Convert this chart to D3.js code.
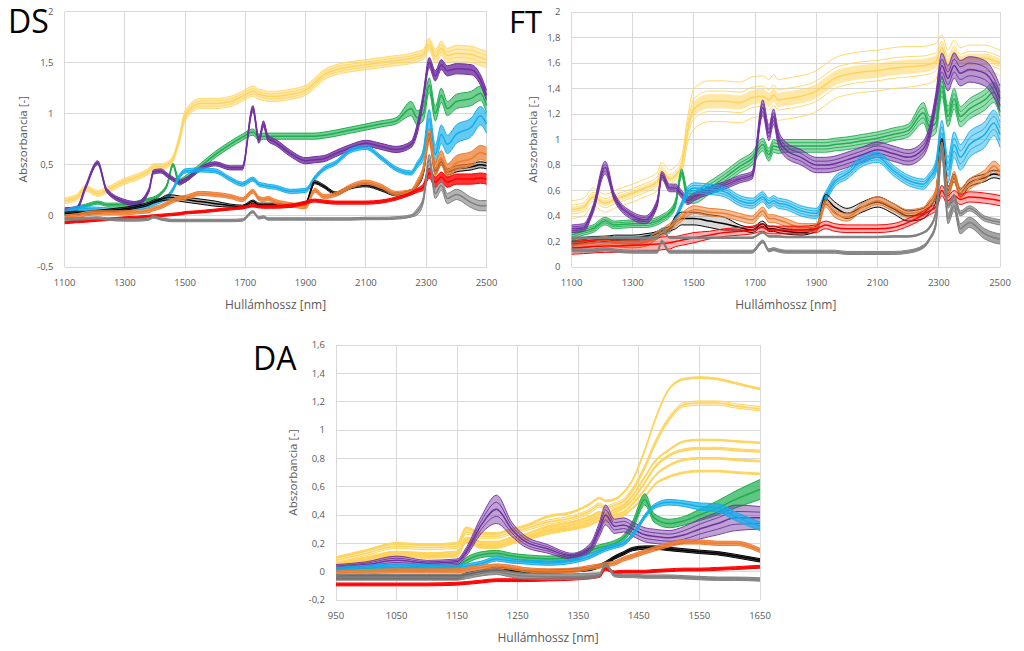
<!DOCTYPE html>
<html><head><meta charset="utf-8">
<script src="https://cdn.jsdelivr.net/npm/d3@7/dist/d3.min.js"></script>
<style>
html,body{margin:0;padding:0;background:#fff;}
svg{display:block;font-family:"Open Sans","Noto Sans",sans-serif;}
</style></head><body>
<svg id="c" width="1024" height="651"></svg>
<script>
// ---------------- DATA ----------------
// shared wavelength grid for DS and FT panels (nm)
const WL = [1100,1140,1170,1210,1240,1300,1340,1380,1395,1420,1440,1460,1480,1500,1550,1600,1650,1690,1725,1745,1760,1775,1800,1850,1900,1930,1960,2000,2050,2100,2150,2200,2250,2270,2290,2310,2330,2350,2370,2400,2450,2480,2500];
const DS_XTICKS = [1100,1300,1500,1700,1900,2100,2300,2500];
const DS_YTICKS = [-0.5,0,0.5,1,1.5,2];
const DS_YLABELS = ["-0,5","0","0,5","1","1,5","2"];
const FT_XTICKS = [1100,1300,1500,1700,1900,2100,2300,2500];
const FT_YTICKS = [0,0.2,0.4,0.6,0.8,1,1.2,1.4,1.6,1.8,2];
const FT_YLABELS = ["0","0,2","0,4","0,6","0,8","1","1,2","1,4","1,6","1,8","2"];
const DA_XTICKS = [950,1050,1150,1250,1350,1450,1550,1650];
const DA_YTICKS = [-0.2,0,0.2,0.4,0.6,0.8,1,1.2,1.4,1.6];
const DA_YLABELS = ["-0,2","0","0,2","0,4","0,6","0,8","1","1,2","1,4","1,6"];

// DS panel: bundle centre values and half-widths
const DS_YELLOW   = [0.15,0.18,0.27,0.22,0.25,0.34,0.38,0.44,0.48,0.48,0.50,0.56,0.74,0.98,1.10,1.10,1.12,1.17,1.22,1.19,1.18,1.17,1.17,1.19,1.23,1.30,1.38,1.43,1.46,1.48,1.50,1.52,1.54,1.56,1.58,1.68,1.56,1.64,1.57,1.59,1.58,1.55,1.53];
const DS_YELLOW_S = [0.03,0.03,0.03,0.03,0.03,0.03,0.03,0.03,0.03,0.03,0.03,0.03,0.04,0.05,0.05,0.05,0.05,0.05,0.05,0.05,0.05,0.05,0.05,0.05,0.05,0.05,0.05,0.05,0.05,0.05,0.05,0.05,0.05,0.05,0.05,0.06,0.07,0.07,0.07,0.08,0.08,0.08,0.08];
const DS_PURPLE   = [0.06,0.07,0.28,0.52,0.25,0.14,0.12,0.25,0.43,0.44,0.40,0.36,0.33,0.35,0.46,0.51,0.47,0.47,1.05,0.74,0.90,0.76,0.72,0.61,0.54,0.55,0.56,0.61,0.67,0.71,0.68,0.65,0.70,0.85,1.15,1.50,1.37,1.48,1.42,1.44,1.43,1.33,1.18];
const DS_PURPLE_S = [0.02,0.02,0.02,0.02,0.02,0.02,0.02,0.02,0.02,0.02,0.02,0.02,0.02,0.02,0.02,0.02,0.02,0.02,0.03,0.03,0.03,0.03,0.03,0.03,0.03,0.03,0.03,0.03,0.03,0.03,0.03,0.03,0.03,0.05,0.05,0.05,0.05,0.05,0.05,0.05,0.05,0.05,0.05];
const DS_GREEN    = [0.03,0.08,0.10,0.13,0.11,0.11,0.13,0.16,0.17,0.22,0.30,0.50,0.33,0.36,0.48,0.60,0.70,0.77,0.82,0.77,0.78,0.78,0.78,0.78,0.78,0.78,0.79,0.81,0.84,0.87,0.90,0.93,1.05,0.96,1.00,1.28,1.00,1.18,1.05,1.12,1.15,1.20,1.08];
const DS_GREEN_S  = [0.015,0.015,0.015,0.015,0.015,0.015,0.015,0.015,0.015,0.015,0.015,0.015,0.03,0.03,0.03,0.03,0.03,0.03,0.03,0.03,0.03,0.03,0.03,0.03,0.03,0.03,0.03,0.03,0.03,0.03,0.03,0.03,0.07,0.07,0.07,0.07,0.07,0.07,0.07,0.07,0.07,0.07,0.07];
const DS_BLUE     = [0.03,0.07,0.07,0.065,0.06,0.06,0.08,0.10,0.12,0.15,0.18,0.26,0.38,0.44,0.45,0.44,0.36,0.31,0.36,0.31,0.30,0.29,0.28,0.24,0.25,0.37,0.46,0.52,0.64,0.67,0.57,0.46,0.42,0.50,0.60,0.95,0.60,0.80,0.70,0.80,0.87,0.98,0.90];
const DS_BLUE_S   = [0.02,0.02,0.02,0.02,0.02,0.02,0.02,0.02,0.02,0.02,0.02,0.02,0.02,0.02,0.02,0.02,0.02,0.02,0.02,0.02,0.02,0.02,0.02,0.02,0.02,0.02,0.02,0.02,0.02,0.02,0.02,0.02,0.02,0.03,0.05,0.09,0.09,0.09,0.09,0.09,0.09,0.09,0.09];
const DS_ORANGE   = [-0.01,0.0,0.02,0.03,0.03,0.03,0.04,0.05,0.07,0.09,0.12,0.15,0.17,0.18,0.22,0.21,0.19,0.16,0.24,0.17,0.16,0.17,0.14,0.11,0.09,0.25,0.19,0.21,0.29,0.33,0.29,0.22,0.24,0.32,0.45,0.78,0.46,0.57,0.44,0.52,0.56,0.62,0.60];
const DS_ORANGE_S = [0.02,0.02,0.02,0.02,0.02,0.02,0.02,0.02,0.02,0.02,0.02,0.02,0.02,0.02,0.02,0.02,0.02,0.02,0.02,0.02,0.02,0.02,0.02,0.02,0.02,0.02,0.02,0.02,0.02,0.02,0.02,0.02,0.02,0.03,0.04,0.07,0.07,0.07,0.07,0.07,0.07,0.07,0.07];
const DS_BLACK    = [0.02,0.03,0.03,0.04,0.05,0.07,0.09,0.12,0.14,0.16,0.18,0.18,0.17,0.16,0.14,0.12,0.10,0.09,0.14,0.11,0.11,0.11,0.11,0.10,0.12,0.33,0.29,0.22,0.28,0.30,0.26,0.21,0.24,0.30,0.42,0.78,0.44,0.53,0.43,0.46,0.48,0.50,0.49];
const DS_BLACK_S  = [0.015,0.015,0.015,0.015,0.015,0.015,0.015,0.015,0.015,0.015,0.025,0.025,0.025,0.025,0.025,0.025,0.015,0.015,0.015,0.015,0.015,0.015,0.015,0.015,0.015,0.015,0.015,0.015,0.015,0.015,0.015,0.015,0.015,0.015,0.02,0.03,0.03,0.03,0.03,0.03,0.03,0.03,0.03];
const DS_RED      = [-0.065,-0.055,-0.05,-0.04,-0.035,-0.02,-0.015,-0.005,0.0,0.005,0.01,0.015,0.02,0.03,0.04,0.055,0.07,0.08,0.10,0.09,0.09,0.09,0.09,0.10,0.13,0.15,0.14,0.13,0.13,0.13,0.14,0.17,0.22,0.25,0.28,0.42,0.33,0.38,0.33,0.36,0.36,0.37,0.36];
const DS_RED_S    = [0.012,0.012,0.012,0.012,0.012,0.012,0.012,0.012,0.012,0.012,0.012,0.012,0.012,0.012,0.012,0.012,0.012,0.012,0.012,0.012,0.015,0.015,0.015,0.015,0.015,0.015,0.015,0.015,0.015,0.015,0.015,0.015,0.015,0.02,0.03,0.05,0.05,0.05,0.05,0.05,0.05,0.05,0.05];
const DS_GRAY     = [-0.03,-0.03,-0.025,-0.02,-0.03,-0.04,-0.04,-0.03,-0.01,-0.03,-0.04,-0.045,-0.045,-0.045,-0.045,-0.045,-0.045,-0.04,0.04,-0.02,-0.01,-0.03,-0.03,-0.03,-0.03,-0.03,-0.03,-0.03,-0.03,-0.025,-0.025,-0.02,0.0,0.04,0.15,0.55,0.22,0.30,0.17,0.21,0.13,0.10,0.10];
const DS_GRAY_S   = [0.012,0.012,0.012,0.012,0.012,0.012,0.012,0.012,0.012,0.012,0.012,0.012,0.012,0.012,0.012,0.012,0.012,0.012,0.012,0.012,0.012,0.012,0.012,0.012,0.012,0.012,0.012,0.012,0.012,0.012,0.012,0.012,0.012,0.03,0.03,0.05,0.05,0.05,0.05,0.05,0.05,0.05,0.05];

// FT panel
const FT_YELLOW   = [0.45,0.47,0.55,0.50,0.53,0.58,0.62,0.67,0.75,0.69,0.72,0.80,1.08,1.24,1.30,1.30,1.29,1.33,1.34,1.31,1.35,1.31,1.32,1.34,1.38,1.43,1.48,1.51,1.53,1.54,1.56,1.57,1.58,1.59,1.61,1.72,1.60,1.68,1.62,1.64,1.64,1.62,1.60];
const FT_YELLOW_S = [0.07,0.07,0.07,0.07,0.07,0.07,0.07,0.07,0.07,0.07,0.07,0.07,0.10,0.16,0.16,0.16,0.16,0.16,0.16,0.16,0.16,0.16,0.16,0.16,0.16,0.16,0.16,0.16,0.16,0.16,0.16,0.16,0.15,0.15,0.14,0.10,0.10,0.10,0.10,0.10,0.10,0.10,0.10];
const FT_PURPLE   = [0.30,0.31,0.45,0.78,0.55,0.40,0.37,0.50,0.72,0.62,0.62,0.57,0.52,0.55,0.60,0.64,0.69,0.72,1.25,1.05,1.18,1.02,0.92,0.86,0.80,0.80,0.81,0.84,0.88,0.92,0.89,0.86,0.93,1.05,1.30,1.58,1.48,1.58,1.52,1.55,1.52,1.43,1.32];
const FT_PURPLE_S = [0.03,0.03,0.03,0.05,0.03,0.03,0.03,0.03,0.03,0.03,0.03,0.03,0.03,0.03,0.03,0.03,0.03,0.03,0.06,0.06,0.06,0.06,0.06,0.06,0.06,0.06,0.06,0.06,0.06,0.06,0.06,0.06,0.06,0.06,0.06,0.10,0.10,0.10,0.10,0.10,0.10,0.10,0.10];
const FT_GREEN    = [0.25,0.28,0.30,0.36,0.33,0.34,0.34,0.36,0.38,0.42,0.50,0.74,0.55,0.55,0.62,0.70,0.79,0.85,0.96,0.88,0.95,0.94,0.95,0.95,0.95,0.95,0.96,0.97,0.99,1.01,1.04,1.07,1.21,1.10,1.13,1.42,1.18,1.32,1.18,1.24,1.31,1.37,1.26];
const FT_GREEN_S  = [0.03,0.03,0.03,0.03,0.03,0.03,0.03,0.03,0.03,0.03,0.03,0.03,0.05,0.05,0.05,0.05,0.05,0.05,0.05,0.05,0.05,0.05,0.05,0.05,0.05,0.05,0.05,0.05,0.05,0.05,0.05,0.05,0.08,0.08,0.08,0.08,0.08,0.08,0.08,0.08,0.08,0.08,0.08];
const FT_BLUE     = [0.18,0.21,0.21,0.22,0.21,0.21,0.22,0.25,0.27,0.29,0.38,0.49,0.59,0.62,0.61,0.59,0.52,0.50,0.55,0.50,0.52,0.50,0.49,0.44,0.42,0.55,0.67,0.73,0.83,0.86,0.76,0.68,0.65,0.70,0.78,1.05,0.76,0.96,0.86,0.96,1.04,1.13,1.04];
const FT_BLUE_S   = [0.025,0.025,0.025,0.025,0.025,0.025,0.025,0.025,0.025,0.025,0.025,0.025,0.04,0.04,0.04,0.04,0.04,0.04,0.04,0.04,0.04,0.04,0.04,0.04,0.04,0.04,0.04,0.04,0.04,0.04,0.04,0.04,0.04,0.04,0.05,0.10,0.10,0.10,0.10,0.10,0.10,0.10,0.10];
const FT_ORANGE   = [0.17,0.18,0.19,0.21,0.19,0.18,0.19,0.25,0.27,0.31,0.35,0.39,0.43,0.45,0.43,0.42,0.39,0.37,0.44,0.38,0.38,0.37,0.35,0.31,0.31,0.50,0.42,0.39,0.47,0.52,0.47,0.42,0.44,0.50,0.58,0.94,0.58,0.71,0.58,0.65,0.72,0.79,0.75];
const FT_ORANGE_S = [0.03,0.03,0.03,0.03,0.03,0.03,0.03,0.03,0.03,0.03,0.03,0.03,0.03,0.03,0.03,0.03,0.03,0.03,0.03,0.03,0.03,0.03,0.03,0.03,0.03,0.03,0.03,0.03,0.03,0.03,0.03,0.03,0.03,0.03,0.03,0.04,0.04,0.04,0.04,0.04,0.04,0.04,0.04];
const FT_BLACK    = [0.20,0.21,0.22,0.22,0.23,0.23,0.24,0.26,0.28,0.30,0.35,0.38,0.38,0.38,0.36,0.34,0.31,0.29,0.34,0.30,0.30,0.29,0.28,0.27,0.30,0.53,0.47,0.42,0.47,0.51,0.46,0.40,0.42,0.47,0.55,0.98,0.60,0.70,0.58,0.66,0.70,0.73,0.72];
const FT_BLACK_S  = [0.02,0.02,0.02,0.02,0.02,0.02,0.02,0.02,0.02,0.02,0.05,0.05,0.05,0.05,0.05,0.05,0.02,0.02,0.02,0.02,0.02,0.02,0.02,0.02,0.02,0.04,0.04,0.04,0.04,0.04,0.04,0.04,0.04,0.04,0.04,0.03,0.03,0.03,0.03,0.03,0.03,0.03,0.03];
const FT_RED      = [0.15,0.155,0.16,0.165,0.165,0.17,0.175,0.18,0.185,0.19,0.20,0.21,0.22,0.23,0.25,0.27,0.28,0.29,0.31,0.29,0.29,0.29,0.29,0.29,0.30,0.33,0.31,0.30,0.30,0.30,0.31,0.35,0.41,0.44,0.47,0.60,0.52,0.56,0.53,0.55,0.54,0.53,0.52];
const FT_RED_S    = [0.05,0.05,0.05,0.05,0.05,0.05,0.05,0.05,0.05,0.05,0.04,0.04,0.04,0.04,0.03,0.03,0.03,0.03,0.03,0.03,0.03,0.03,0.03,0.03,0.03,0.03,0.03,0.03,0.03,0.03,0.03,0.03,0.03,0.03,0.03,0.04,0.04,0.04,0.04,0.04,0.04,0.04,0.04];
const FT_GRAYLO   = [0.13,0.13,0.13,0.14,0.13,0.12,0.12,0.12,0.20,0.12,0.12,0.12,0.12,0.12,0.12,0.12,0.12,0.12,0.20,0.13,0.14,0.13,0.12,0.12,0.12,0.12,0.12,0.11,0.11,0.11,0.11,0.12,0.16,0.22,0.33,0.90,0.38,0.48,0.30,0.35,0.26,0.23,0.22];
const FT_GRAYLO_S = [0.012,0.012,0.012,0.012,0.012,0.012,0.012,0.012,0.012,0.012,0.012,0.012,0.012,0.012,0.012,0.012,0.012,0.012,0.012,0.012,0.012,0.012,0.012,0.012,0.012,0.012,0.012,0.012,0.012,0.012,0.012,0.012,0.012,0.012,0.02,0.04,0.04,0.04,0.04,0.04,0.04,0.04,0.04];
const FT_GRAYHI   = [0.23,0.23,0.23,0.23,0.23,0.23,0.23,0.23,0.30,0.23,0.23,0.23,0.23,0.23,0.23,0.23,0.23,0.23,0.27,0.24,0.24,0.24,0.235,0.235,0.235,0.235,0.235,0.235,0.235,0.235,0.24,0.24,0.27,0.31,0.42,0.95,0.48,0.55,0.42,0.46,0.38,0.36,0.35];
const FT_GRAYHI_S = [0.006,0.006,0.006,0.006,0.006,0.006,0.006,0.006,0.006,0.006,0.006,0.006,0.006,0.006,0.006,0.006,0.006,0.006,0.006,0.006,0.006,0.006,0.006,0.006,0.006,0.006,0.006,0.006,0.006,0.006,0.006,0.006,0.006,0.01,0.015,0.02,0.02,0.02,0.02,0.02,0.02,0.02,0.02];

// DA panel
const DA_WL = [950,1000,1050,1100,1150,1165,1190,1215,1240,1260,1300,1340,1370,1385,1395,1410,1425,1440,1460,1475,1500,1525,1550,1580,1610,1650];
const DA_YELLOW1 = [0.10,0.15,0.20,0.19,0.20,0.31,0.27,0.27,0.30,0.32,0.39,0.42,0.48,0.52,0.50,0.51,0.56,0.65,0.86,1.05,1.29,1.36,1.37,1.36,1.33,1.29];
const DA_YELLOW2 = [0.08,0.13,0.18,0.17,0.18,0.28,0.25,0.25,0.28,0.30,0.35,0.38,0.43,0.47,0.45,0.47,0.50,0.58,0.74,0.89,1.08,1.18,1.19,1.19,1.17,1.15];
const DA_YELLOW3 = [0.06,0.10,0.14,0.13,0.14,0.24,0.21,0.21,0.24,0.26,0.32,0.35,0.39,0.42,0.41,0.44,0.47,0.54,0.67,0.77,0.86,0.92,0.93,0.93,0.92,0.91];
const DA_YELLOW4 = [0.05,0.09,0.13,0.12,0.13,0.23,0.19,0.19,0.22,0.24,0.30,0.33,0.37,0.40,0.39,0.42,0.45,0.51,0.63,0.73,0.82,0.86,0.87,0.87,0.86,0.85];
const DA_YELLOW5 = [0.04,0.08,0.12,0.11,0.12,0.22,0.18,0.18,0.21,0.23,0.29,0.31,0.35,0.38,0.37,0.40,0.42,0.48,0.58,0.67,0.75,0.79,0.80,0.80,0.79,0.78];
const DA_YELLOW6 = [0.03,0.07,0.11,0.10,0.11,0.21,0.17,0.17,0.20,0.22,0.27,0.30,0.33,0.36,0.35,0.38,0.40,0.45,0.53,0.61,0.67,0.70,0.71,0.71,0.70,0.69];
const DA_PURPLE   = [0.03,0.05,0.08,0.06,0.07,0.14,0.33,0.44,0.30,0.22,0.16,0.11,0.17,0.30,0.40,0.32,0.33,0.30,0.26,0.25,0.24,0.26,0.30,0.34,0.38,0.38];
const DA_PURPLE_S = [0.02,0.02,0.03,0.02,0.02,0.03,0.06,0.10,0.05,0.04,0.03,0.02,0.03,0.05,0.07,0.05,0.05,0.05,0.05,0.05,0.05,0.06,0.07,0.08,0.09,0.08];
const DA_GREEN    = [0.02,0.02,0.02,0.02,0.04,0.08,0.12,0.13,0.11,0.10,0.09,0.10,0.15,0.17,0.18,0.20,0.24,0.33,0.51,0.38,0.34,0.36,0.40,0.45,0.51,0.58];
const DA_GREEN_S  = [0.01,0.01,0.01,0.01,0.01,0.02,0.02,0.02,0.02,0.02,0.02,0.02,0.02,0.02,0.02,0.02,0.02,0.03,0.04,0.03,0.03,0.03,0.04,0.05,0.06,0.07];
const DA_BLUE     = [0.015,0.03,0.04,0.035,0.03,0.04,0.06,0.09,0.075,0.07,0.06,0.075,0.11,0.14,0.16,0.18,0.20,0.26,0.39,0.46,0.49,0.48,0.46,0.45,0.39,0.32];
const DA_BLUE_S   = [0.015,0.015,0.015,0.015,0.015,0.015,0.015,0.015,0.015,0.015,0.015,0.015,0.015,0.015,0.015,0.015,0.015,0.015,0.015,0.015,0.02,0.02,0.025,0.03,0.03,0.03];
const DA_ORANGE   = [-0.01,0.0,0.005,0.005,0.005,0.015,0.03,0.04,0.03,0.015,0.005,0.01,0.03,0.04,0.05,0.06,0.09,0.11,0.14,0.16,0.19,0.21,0.21,0.20,0.20,0.15];
const DA_BLACK    = [-0.04,-0.04,-0.04,-0.04,-0.04,-0.02,0.0,0.02,0.01,0.0,0.0,0.01,0.02,0.04,0.06,0.10,0.13,0.16,0.17,0.17,0.16,0.15,0.14,0.13,0.11,0.08];
const DA_RED      = [-0.09,-0.09,-0.09,-0.09,-0.085,-0.08,-0.07,-0.06,-0.06,-0.06,-0.055,-0.05,-0.04,-0.03,0.02,-0.005,0.0,0.0,0.0,0.005,0.01,0.015,0.015,0.02,0.025,0.035];
const DA_GRAY     = [-0.04,-0.04,-0.04,-0.04,-0.04,-0.03,-0.01,0.0,-0.02,-0.03,-0.035,-0.035,-0.03,-0.02,0.05,-0.025,-0.03,-0.03,-0.035,-0.035,-0.035,-0.04,-0.045,-0.05,-0.05,-0.055];
const DA_GRAY_S   = [0.02,0.02,0.02,0.02,0.02,0.02,0.02,0.02,0.02,0.02,0.02,0.02,0.02,0.012,0.012,0.012,0.012,0.012,0.012,0.012,0.012,0.012,0.012,0.012,0.012,0.012];

// ---------------- STYLE ----------------
const C = {yellow:"#FFD45E", purple:"#7030A0", green:"#1DAE4F", blue:"#12AEEC",
           orange:"#ED7D31", black:"#000000", red:"#FF0000", gray:"#808080"};
const TXT = "#595959", GRID = "#d9d9d9";

const svg = d3.select("#c");

function drawPanel(p){
  const x = d3.scaleLinear().domain(p.xDomain).range([p.L, p.R]);
  const y = d3.scaleLinear().domain(p.yDomain).range([p.B, p.T]);
  const g = svg.append("g");
  // grid
  g.selectAll(null).data(p.yTicks).join("line")
    .attr("x1", p.L).attr("x2", p.R).attr("y1", d => y(d)).attr("y2", d => y(d))
    .attr("stroke", GRID).attr("stroke-width", 1).attr("shape-rendering","crispEdges");
  g.selectAll(null).data(p.xTicks).join("line")
    .attr("y1", p.T).attr("y2", p.B).attr("x1", d => x(d)).attr("x2", d => x(d))
    .attr("stroke", GRID).attr("stroke-width", 1).attr("shape-rendering","crispEdges");
  // clip
  const cid = "clip" + p.id;
  svg.append("clipPath").attr("id", cid).append("rect")
    .attr("x", p.L).attr("y", p.T - 2).attr("width", p.R - p.L + 1).attr("height", p.B - p.T + 2);
  const plot = g.append("g").attr("clip-path", `url(#${cid})`);
  const idx = d3.range(p.wl.length);
  p.groups.forEach(gr => {
    const sp = i => (typeof gr.s === "number" ? gr.s : gr.s[i]);
    const core = gr.core ?? 1;
    const area = d3.area().curve(d3.curveMonotoneX)
      .x(i => x(p.wl[i])).y0(i => y(gr.c[i] - core * sp(i))).y1(i => y(gr.c[i] + core * sp(i)));
    plot.append("path").attr("d", area(idx)).attr("fill", gr.color)
      .attr("fill-opacity", gr.fo ?? 0.6).attr("stroke", "none");
    const mk = k => d3.line().curve(d3.curveMonotoneX)
      .x(i => x(p.wl[i])).y(i => y(gr.c[i] + k * sp(i)));
    const ks = gr.mid ? [-1, -0.5, 0.5, 1] : [-1, 1];
    ks.forEach(k => plot.append("path").attr("d", mk(k)(idx)).attr("fill","none")
      .attr("stroke", gr.color).attr("stroke-width", gr.ew ?? 1));
    plot.append("path").attr("d", mk(0)(idx)).attr("fill","none")
      .attr("stroke", gr.color).attr("stroke-width", gr.cw ?? 1.5);
  });
  // tick labels
  g.selectAll(null).data(p.yTicks).join("text")
    .attr("x", p.L - p.yLabGap).attr("y", d => y(d)).attr("dy", "0.35em")
    .attr("text-anchor", "end").attr("font-size", 9.5).attr("fill", TXT)
    .text((d, i) => p.yLabels[i]);
  g.selectAll(null).data(p.xTicks).join("text")
    .attr("x", d => x(d)).attr("y", p.B + 16).attr("dy", "0.35em")
    .attr("text-anchor", "middle").attr("font-size", 9.5).attr("fill", TXT)
    .text(d => d);
  // axis titles
  g.append("text").attr("x", (p.L + p.R) / 2).attr("y", p.B + 38).attr("dy", "0.35em")
    .attr("text-anchor", "middle").attr("font-size", 12).attr("fill", TXT).text("Hullámhossz [nm]");
  g.append("text").attr("transform", `translate(${p.ytX},${(p.T + p.B) / 2}) rotate(-90)`)
    .attr("dy", "0.35em").attr("text-anchor", "middle").attr("font-size", 11.5)
    .attr("fill", TXT).text("Abszorbancia [-]");
  // panel title
  g.append("text").attr("x", p.titleX).attr("y", p.titleY).attr("font-size", p.titleSize ?? 32)
    .attr("fill", "#000").text(p.title);
}

drawPanel({
  id: "DS", title: "DS", titleX: 8, titleY: 33,
  L: 64.5, R: 486.5, T: 11.5, B: 267, xDomain: [1100, 2500], yDomain: [-0.5, 2],
  xTicks: DS_XTICKS, yTicks: DS_YTICKS, yLabels: DS_YLABELS, yLabGap: 11, ytX: 23, wl: WL,
  groups: [
    {color: C.yellow, c: DS_YELLOW, s: DS_YELLOW_S, fo: 0.5, mid: true, ew: 0.8},
    {color: C.green,  c: DS_GREEN,  s: DS_GREEN_S, fo: 0.6},
    {color: C.purple, c: DS_PURPLE, s: DS_PURPLE_S, fo: 0.8},
    {color: C.blue,   c: DS_BLUE,   s: DS_BLUE_S, fo: 0.65},
    {color: C.black,  c: DS_BLACK,  s: DS_BLACK_S, fo: 0.3},
    {color: C.orange, c: DS_ORANGE, s: DS_ORANGE_S, fo: 0.75},
    {color: C.red,    c: DS_RED,    s: DS_RED_S, fo: 0.8},
    {color: C.gray,   c: DS_GRAY,   s: DS_GRAY_S, fo: 0.6}
  ]
});

drawPanel({
  id: "FT", title: "FT", titleX: 509, titleY: 33, titleSize: 31,
  L: 571.5, R: 1000, T: 12, B: 267, xDomain: [1100, 2500], yDomain: [0, 2],
  xTicks: FT_XTICKS, yTicks: FT_YTICKS, yLabels: FT_YLABELS, yLabGap: 11, ytX: 533, wl: WL,
  groups: [
    {color: C.yellow, c: FT_YELLOW, s: FT_YELLOW_S, fo: 0.55, core: 0.35, mid: true, ew: 0.9},
    {color: C.green,  c: FT_GREEN,  s: FT_GREEN_S, fo: 0.45, mid: true, ew: 0.9},
    {color: C.purple, c: FT_PURPLE, s: FT_PURPLE_S, fo: 0.5, mid: true, ew: 0.9},
    {color: C.blue,   c: FT_BLUE,   s: FT_BLUE_S, fo: 0.45, mid: true, ew: 0.9},
    {color: C.black,  c: FT_BLACK,  s: FT_BLACK_S, fo: 0.15},
    {color: C.orange, c: FT_ORANGE, s: FT_ORANGE_S, fo: 0.5},
    {color: C.red,    c: FT_RED,    s: FT_RED_S, fo: 0.3},
    {color: C.gray,   c: FT_GRAYHI, s: FT_GRAYHI_S},
    {color: C.gray,   c: FT_GRAYLO, s: FT_GRAYLO_S, fo: 0.7}
  ]
});

drawPanel({
  id: "DA", title: "DA", titleX: 253, titleY: 370,
  L: 336, R: 760, T: 345, B: 600, xDomain: [950, 1650], yDomain: [-0.2, 1.6],
  xTicks: DA_XTICKS, yTicks: DA_YTICKS, yLabels: DA_YLABELS, yLabGap: 11, ytX: 293, wl: DA_WL,
  groups: [
    {color: C.yellow, c: DA_YELLOW1, s: 0.006, fo: 0.6},
    {color: C.yellow, c: DA_YELLOW2, s: 0.015, fo: 0.3},
    {color: C.yellow, c: DA_YELLOW3, s: 0.005, fo: 0.6},
    {color: C.yellow, c: DA_YELLOW4, s: 0.008, fo: 0.3},
    {color: C.yellow, c: DA_YELLOW5, s: 0.006, fo: 0.3},
    {color: C.yellow, c: DA_YELLOW6, s: 0.006, fo: 0.3},
    {color: C.green,  c: DA_GREEN,  s: DA_GREEN_S, fo: 0.7},
    {color: C.purple, c: DA_PURPLE, s: DA_PURPLE_S, fo: 0.45, mid: true, ew: 0.9},
    {color: C.blue,   c: DA_BLUE,   s: DA_BLUE_S, fo: 0.7},
    {color: C.black,  c: DA_BLACK,  s: 0.012, fo: 0.7},
    {color: C.orange, c: DA_ORANGE, s: 0.015, fo: 0.8},
    {color: C.red,    c: DA_RED,    s: 0.01, fo: 0.8},
    {color: C.gray,   c: DA_GRAY,   s: DA_GRAY_S, fo: 0.8}
  ]
});
</script>
</body></html>
